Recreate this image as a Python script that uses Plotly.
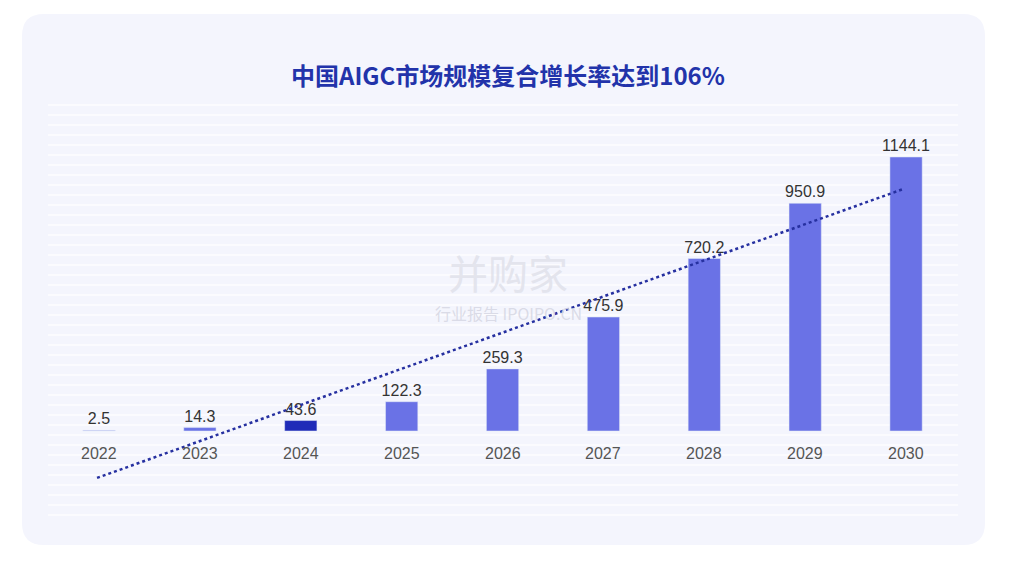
import plotly.graph_objects as go

years = ["2022","2023","2024","2025","2026","2027","2028","2029","2030"]
values = [2.5, 14.3, 43.6, 122.3, 259.3, 475.9, 720.2, 950.9, 1144.1]
colors = ["#6a72e6"]*9
colors[2] = "#1f2bb8"
trend = [-196, 1010]

# reference pixel -> paper coords (plot area spans x 48..958, y 95..525)
def px(v): return (v-48)/910
def py(v): return (525-v)/430

x = list(range(len(years)))
fig = go.Figure()
fig.add_trace(go.Bar(x=x, y=values, width=0.32, marker_color=colors,
                     text=[f"{v:.1f}" for v in values], textposition="outside",
                     constraintext="none",
                     textfont=dict(size=16, color="#333333"), cliponaxis=False))
fig.add_trace(go.Scatter(x=[-0.02, 7.97], y=trend, mode="lines",
                         line=dict(color="#2630a0", width=2.5, dash="dot")))
for i, yr in enumerate(years):
    fig.add_annotation(x=i, y=-96, text=yr, showarrow=False,
                       font=dict(size=16, color="#555555"))
fig.add_annotation(x=px(508), y=py(55), xref="paper", yref="paper", text="<b>中国AIGC市场规模复合增长率达到106%</b>",
                   showarrow=False, font=dict(size=24, color="#2233aa", family="Noto Sans CJK SC"))
fig.add_annotation(x=px(508), y=py(272), xref="paper", yref="paper", text="并购家",
                   showarrow=False, font=dict(size=40, color="rgba(225,226,235,0.9)", family="Noto Sans CJK SC"))
fig.add_annotation(x=px(508), y=py(313), xref="paper", yref="paper", text="行业报告 IPOIPO.CN",
                   showarrow=False, font=dict(size=16, color="rgba(215,216,228,0.9)", family="Noto Sans CJK SC"))

x0, x1, y0, y1 = px(22), px(985), py(545), py(14)
rx, ry = 22/910, 22/430
path = (f"M {x0+rx},{y0} L {x1-rx},{y0} Q {x1},{y0} {x1},{y0+ry} L {x1},{y1-ry} Q {x1},{y1} {x1-rx},{y1} "
        f"L {x0+rx},{y1} Q {x0},{y1} {x0},{y1-ry} L {x0},{y0+ry} Q {x0},{y0} {x0+rx},{y0} Z")
fig.add_shape(type="path", path=path, xref="paper", yref="paper", fillcolor="#f4f5fd",
              line=dict(width=0), layer="below")

W, H = 1002, 551
fig.update_layout(width=W, height=H, paper_bgcolor="white", plot_bgcolor="#f3f4fa",
                  margin=dict(l=40, r=W-950, t=87, b=H-517), showlegend=False,
                  font=dict(family="Liberation Sans, Arial"))
fig.update_xaxes(range=[-0.506, 8.515], showticklabels=False, showgrid=False, zeroline=False)
fig.update_yaxes(range=[-392.5, 1403], showticklabels=False, showgrid=True, gridcolor="#fbfbfe",
                 gridwidth=2, dtick=41.75, tick0=-392.5, zeroline=False)
fig.write_html("out.html")
